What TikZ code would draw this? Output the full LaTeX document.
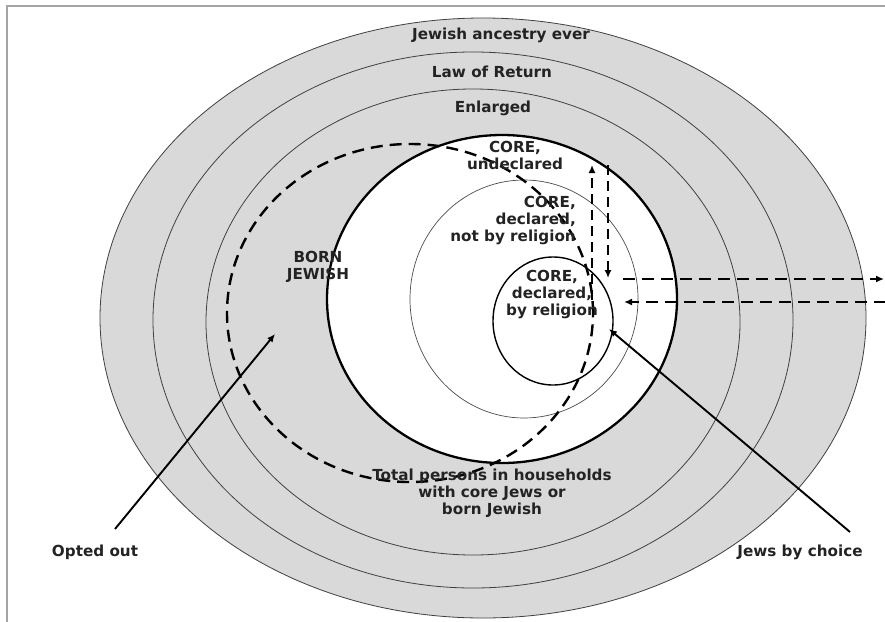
\documentclass[tikz,border=0pt]{standalone}
\usepackage{fontspec}
\setmainfont{DejaVu Sans}
\usetikzlibrary{arrows.meta}
\definecolor{ringgray}{RGB}{217,217,217}
\definecolor{framegray}{RGB}{165,165,165}
\definecolor{txt}{RGB}{35,35,35}
\begin{document}
\begin{tikzpicture}[x=1pt,y=-1pt,
  ring/.style={draw=black!75, line width=0.8pt},
  lbl/.style={font=\bfseries\fontsize{15.2}{17}\selectfont, align=center, inner sep=0pt, text=txt},
  borndash/.style={dash pattern=on 12pt off 7pt, line width=2.4pt},
  arrdash/.style={dash pattern=on 10pt off 6pt, line width=2pt},
  tip/.style={-{Latex[length=8pt,width=7pt]}}
]
\useasboundingbox (0,0) rectangle (885,621);
\fill[white] (0,0) rectangle (885,621);
\draw[framegray, line width=1.5pt] (7,630) -- (7,6) -- (890,6);
% rings
\draw[ring, fill=ringgray] (483,318) ellipse [x radius=383pt, y radius=300pt];
\draw[ring] (473,320) ellipse [x radius=320pt, y radius=268pt];
\draw[ring] (473,322) ellipse [x radius=267pt, y radius=233pt];
\draw[line width=2.3pt, fill=white] (502,299) ellipse [x radius=175pt, y radius=164pt];
\draw[line width=0.7pt, black!70] (524,299) ellipse [x radius=114pt, y radius=119pt];
\draw[line width=1.4pt] (553,321) ellipse [x radius=60pt, y radius=64pt];
% born jewish dashed ellipse
\draw[borndash] (410,313) ellipse [x radius=183pt, y radius=169pt];
% coordinates for connectors
\coordinate (upS) at (592,300);
\coordinate (upE) at (592,165);
\coordinate (dnS) at (608,165);
\coordinate (dnE) at (608,278);
\coordinate (hrS) at (623,279);
\coordinate (hrE) at (884,279);
\coordinate (hlS) at (886,302);
\coordinate (hlE) at (624,302);
\coordinate (optS) at (115,529);
\coordinate (optE) at (275,334);
\coordinate (jbcS) at (850,532);
\coordinate (jbcE) at (609,329);
% dashed arrows
\draw[arrdash, tip] (upS) -- (upE);
\draw[arrdash, tip] (dnS) -- (dnE);
\draw[borndash, tip] (hrS) -- (hrE);
\draw[borndash, tip] (hlS) -- (hlE);
% solid arrows
\draw[line width=1.9pt, tip] (optS) -- (optE);
\draw[line width=1.9pt, tip] (jbcS) -- (jbcE);
% labels
\node[lbl] (anc) at (501,35) {Jewish ancestry ever};
\node[lbl] (law) at (492,72) {Law of Return};
\node[lbl] (enl) at (493,108) {Enlarged};
\node[lbl] (cund) at (515,155) {CORE,\\undeclared};
\node[lbl, align=right, anchor=east] (cdnr) at (576,220) {CORE,\\declared,\\not by religion};
\node[lbl] (cdr) at (552,294) {CORE,\\declared,\\by religion};
\node[lbl] (born) at (318,267) {BORN\\JEWISH};
\node[lbl] (tot) at (492,493) {Total persons in households\\with core Jews or\\born Jewish};
\node[lbl] (opt) at (95,552) {Opted out};
\node[lbl] (jbc) at (800,552) {Jews by choice};
\end{tikzpicture}
\end{document}
